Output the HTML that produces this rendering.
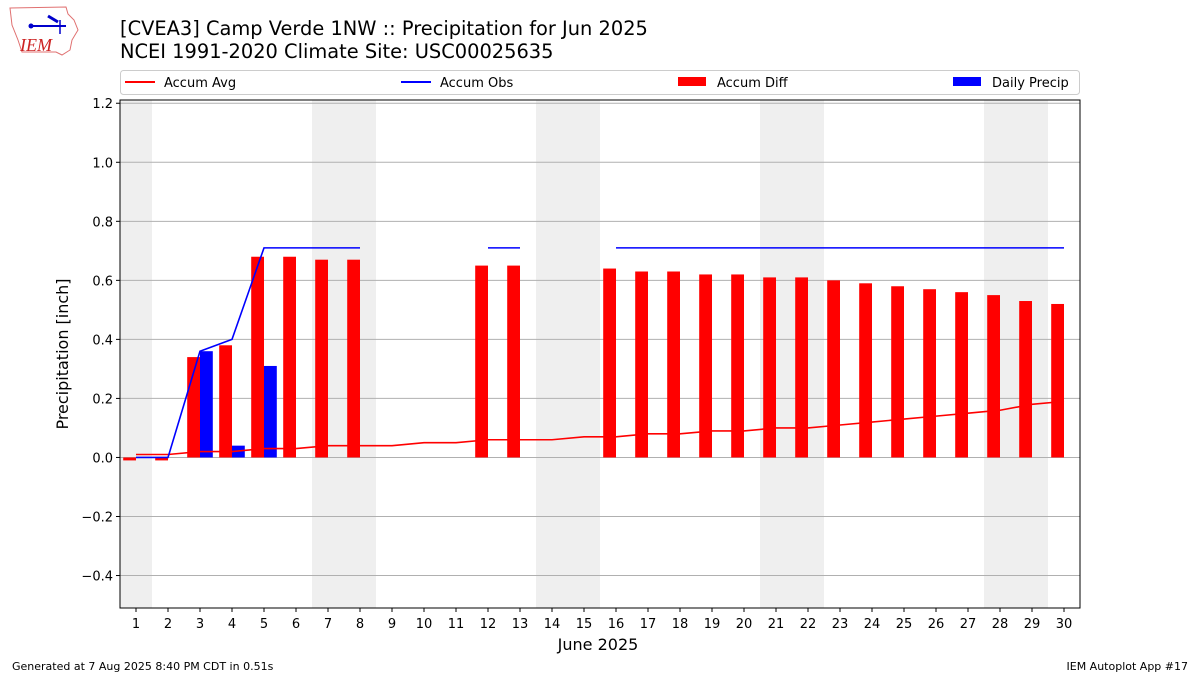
<!DOCTYPE html>
<html><head><meta charset="utf-8"><style>
body{margin:0;background:#fff;font-family:"DejaVu Sans","Liberation Sans",sans-serif}
svg{display:block}
</style></head><body>
<svg id="c" width="1200" height="675" xmlns="http://www.w3.org/2000/svg" font-family="DejaVu Sans, Liberation Sans, sans-serif">
<g>
<path d="M10 8 L66 7 L68 14 L74 20 L78 30 L72 40 L70 50 L62 55 L56 52 L22 52 L18 40 L12 25 Z" fill="none" stroke="#e07070" stroke-width="1"/>
<line x1="30" y1="26" x2="66" y2="26" stroke="#0000cc" stroke-width="2"/>
<circle cx="31" cy="26" r="2.5" fill="#0000cc"/>
<path d="M48 16 L58 22" stroke="#0000cc" stroke-width="3"/>
<line x1="60" y1="20" x2="60" y2="34" stroke="#0000cc" stroke-width="1.5"/>
<text x="20" y="51" font-family="Liberation Serif, serif" font-style="italic" font-size="18" fill="#cc2222">IEM</text>
</g>
<text x="120" y="35" font-size="19.4">[CVEA3] Camp Verde 1NW :: Precipitation for Jun 2025</text>
<text x="120" y="58" font-size="19.4">NCEI 1991-2020 Climate Site: USC00025635</text>
<g>
<rect x="120.5" y="70.5" width="959" height="24" rx="3" fill="#fff" stroke="#ccc"/>
<g><line x1="125" y1="82" x2="155" y2="82" stroke="red" stroke-width="2"/><text x="164" y="87" font-size="13">Accum Avg</text></g>
<g><line x1="401" y1="82" x2="431" y2="82" stroke="blue" stroke-width="2"/><text x="440" y="87" font-size="13">Accum Obs</text></g>
<g><rect x="678" y="77" width="28" height="9" fill="red"/><text x="717" y="87" font-size="13">Accum Diff</text></g>
<g><rect x="953" y="77" width="28" height="9" fill="blue"/><text x="992" y="87" font-size="13">Daily Precip</text></g>
</g>
<g id="plot"></g>
<text x="598" y="650" font-size="16" text-anchor="middle">June 2025</text>
<text transform="translate(68,354) rotate(-90)" font-size="16" text-anchor="middle">Precipitation [inch]</text>
<text x="12" y="670" font-size="11">Generated at 7 Aug 2025 8:40 PM CDT in 0.51s</text>
<text x="1188" y="670" font-size="11" text-anchor="end">IEM Autoplot App #17</text>
</svg>
<script>
const days=[1,2,3,4,5,6,7,8,9,10,11,12,13,14,15,16,17,18,19,20,21,22,23,24,25,26,27,28,29,30];
const accumAvg=[0.01,0.01,0.02,0.02,0.03,0.03,0.04,0.04,0.04,0.05,0.05,0.06,0.06,0.06,0.07,0.07,0.08,0.08,0.09,0.09,0.10,0.10,0.11,0.12,0.13,0.14,0.15,0.16,0.18,0.19];
const accumObs=[0,0,0.36,0.40,0.71,0.71,0.71,0.71,null,null,null,0.71,0.71,null,null,0.71,0.71,0.71,0.71,0.71,0.71,0.71,0.71,0.71,0.71,0.71,0.71,0.71,0.71,0.71];
const accumDiff=[-0.01,-0.01,0.34,0.38,0.68,0.68,0.67,0.67,null,null,null,0.65,0.65,null,null,0.64,0.63,0.63,0.62,0.62,0.61,0.61,0.60,0.59,0.58,0.57,0.56,0.55,0.53,0.52];
const dailyPrecip=[0,0,0.36,0.04,0.31,0,0,0,null,null,null,0,0,null,null,0,0,0,0,0,0,0,0,0,0,0,0,0,0,0];
const weekends=[[0.5,1.5],[6.5,8.5],[13.5,15.5],[20.5,22.5],[27.5,29.5]];
const yTicks=[-0.4,-0.2,0,0.2,0.4,0.6,0.8,1.0,1.2];
const yTickLabels=["\u22120.4","\u22120.2","0.0","0.2","0.4","0.6","0.8","1.0","1.2"];
const L=120,R=1080,T=100,B=608,ymin=-0.51,ymax=1.211;
const X=d=>L+(d-0.5)/30*(R-L);
const Y=v=>B-(v-ymin)/(ymax-ymin)*(B-T);
const NS="http://www.w3.org/2000/svg",g=document.getElementById('plot');
function mk(t,a,p){const e=document.createElementNS(NS,t);for(const k in a)e.setAttribute(k,a[k]);(p||g).appendChild(e);return e;}
weekends.forEach(w=>{const e=mk('rect',{x:X(w[0]),y:T,width:X(w[1])-X(w[0]),height:B-T,fill:'#efefef'});

});
yTicks.forEach((v,i)=>{const l=mk('line',{x1:L,x2:R,y1:Y(v),y2:Y(v),stroke:'#b0b0b0','stroke-width':1});


mk('line',{x1:L-4,x2:L,y1:Y(v),y2:Y(v),stroke:'#000'});
const t=mk('text',{x:L-7,y:Y(v)+5,'font-size':13,'text-anchor':'end'});t.textContent=yTickLabels[i];

});
const bw=0.4*(R-L)/30;
days.forEach((d,i)=>{
if(accumDiff[i]!=null){const v=accumDiff[i];const r=mk('rect',{x:X(d)-bw,y:Math.min(Y(v),Y(0)),width:bw,height:Math.max(Math.abs(Y(v)-Y(0)),0.5),fill:'red'});

}
if(dailyPrecip[i]!=null&&dailyPrecip[i]>0){const v=dailyPrecip[i];const r=mk('rect',{x:X(d),y:Y(v),width:bw,height:Y(0)-Y(v),fill:'blue'});

}
mk('line',{x1:X(d),x2:X(d),y1:B,y2:B+4,stroke:'#000'});
const t=mk('text',{x:X(d),y:B+20,'font-size':13,'text-anchor':'middle'});t.textContent=d;

});
function path(arr){let s='',pen=false;arr.forEach((v,i)=>{if(v==null){pen=false;return;}s+=(pen?'L':'M')+X(days[i])+' '+Y(v)+' ';pen=true;});return s;}
const pa=mk('path',{d:path(accumAvg),fill:'none',stroke:'red','stroke-width':1.6});


const po=mk('path',{d:path(accumObs),fill:'none',stroke:'blue','stroke-width':1.6});


const fr=mk('rect',{x:L,y:T,width:R-L,height:B-T,fill:'none',stroke:'#000','stroke-width':1});


</script>
</body></html>
